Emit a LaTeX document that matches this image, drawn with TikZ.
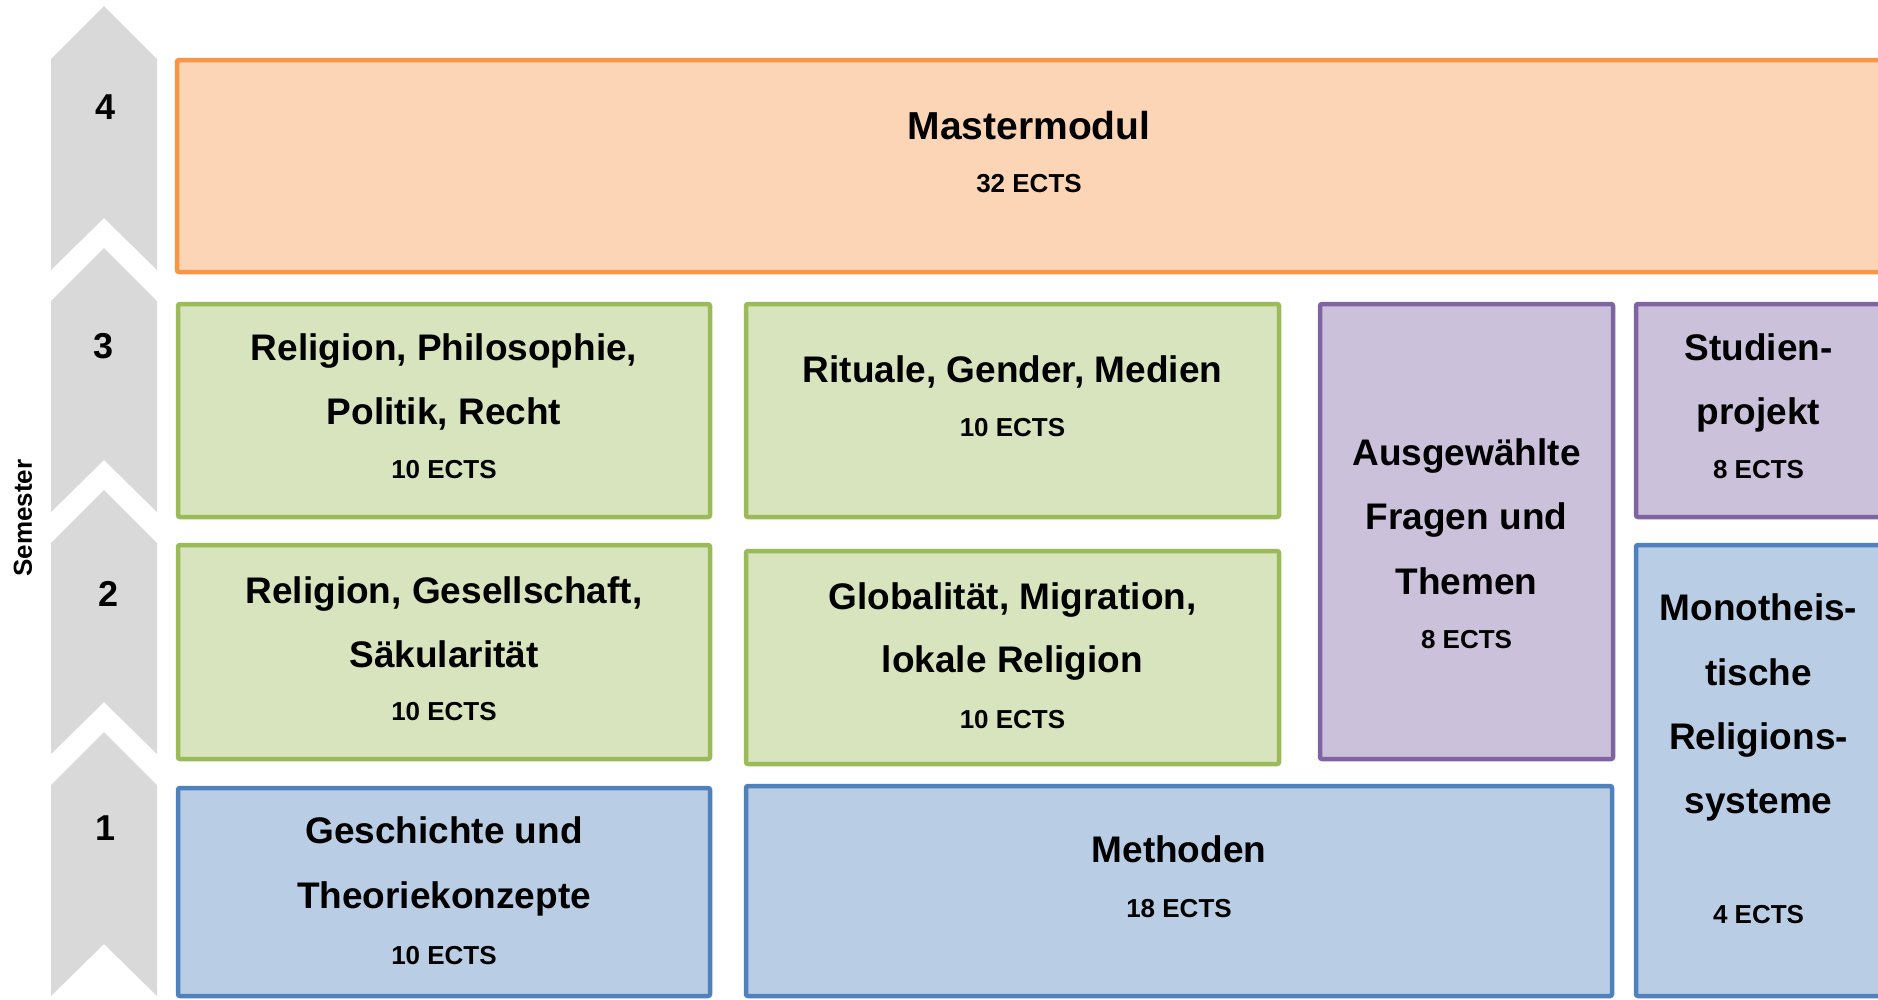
\documentclass[tikz,border=0pt]{standalone}
\usepackage{fontspec}
\setmainfont{Liberation Sans}
\definecolor{orfill}{HTML}{FBD5B5}
\definecolor{ordraw}{HTML}{F79646}
\definecolor{grfill}{HTML}{D7E4BD}
\definecolor{grdraw}{HTML}{9BBB59}
\definecolor{pufill}{HTML}{CCC1DA}
\definecolor{pudraw}{HTML}{8064A2}
\definecolor{blfill}{HTML}{B9CDE5}
\definecolor{bldraw}{HTML}{4F81BD}
\definecolor{chev}{HTML}{D9D9D9}
\begin{document}
\begin{tikzpicture}[x=1pt,y=-1pt,
  modbox/.style={rectangle, rounded corners=2pt, line width=4.5pt, inner sep=0pt},
  orbox/.style={modbox, draw=ordraw, fill=orfill},
  grbox/.style={modbox, draw=grdraw, fill=grfill},
  pubox/.style={modbox, draw=pudraw, fill=pufill},
  blbox/.style={modbox, draw=bldraw, fill=blfill},
  ttl/.style={font=\fontsize{37}{40}\selectfont\bfseries, anchor=base, inner sep=0pt},
  bigttl/.style={font=\fontsize{39}{42}\selectfont\bfseries, anchor=base, inner sep=0pt},
  ect/.style={font=\fontsize{26}{30}\selectfont\bfseries, anchor=base, inner sep=0pt},
  num/.style={font=\fontsize{36}{40}\selectfont\bfseries, inner sep=0pt},
  chevron/.style={fill=chev}
]
\useasboundingbox (0,0) rectangle (1878,999);
\clip (0,0) rectangle (1878,999);

% chevrons
\foreach \t in {6,248,490,732}{
  \fill[chevron] (51,\t+53) -- (104,\t) -- (157,\t+53) -- (157,\t+264)
     -- (104,\t+212) -- (51,\t+264) -- cycle;
}
\node[num] (s4) at (106,107) {4};
\node[num] (s3) at (104,346) {3};
\node[num] (s2) at (109,594) {2};
\node[num] (s1) at (106,828) {1};
\node[rotate=90, font=\fontsize{26}{30}\selectfont\bfseries, inner sep=0pt] (sem) at (23,518) {Semester};

% boxes
\node[orbox, minimum width=1704pt, minimum height=212pt] (mm) at (1029,166) {};
\node[grbox, minimum width=532pt, minimum height=213pt] (rpp) at (444,410.5) {};
\node[grbox, minimum width=532pt, minimum height=214pt] (rgs) at (444,652) {};
\node[blbox, minimum width=532pt, minimum height=208pt] (gtk) at (444,892) {};
\node[grbox, minimum width=533pt, minimum height=213pt] (rgm) at (1012.5,410.5) {};
\node[grbox, minimum width=533pt, minimum height=213pt] (glo) at (1012.5,657.5) {};
\node[blbox, minimum width=866pt, minimum height=210pt] (met) at (1179,891) {};
\node[pubox, minimum width=293pt, minimum height=455pt] (agf) at (1466.5,531.5) {};
\node[pubox, minimum width=245pt, minimum height=213pt] (stp) at (1758.5,410.5) {};
\node[blbox, minimum width=245pt, minimum height=451pt] (mon) at (1758.5,770.5) {};

% texts
\node[bigttl] (mm1) at (mm |- 0,139) {Mastermodul};
\node[ect] (mm2) at (mm |- 0,192) {32 ECTS};

\node[ttl] (rpp1) at (rpp |- 0,360) {Religion, Philosophie,};
\node[ttl] (rpp2) at (rpp |- 0,424) {Politik, Recht};
\node[ect] (rpp3) at (rpp |- 0,478) {10 ECTS};

\node[ttl] (rgm1) at (rgm |- 0,382) {Rituale, Gender, Medien};
\node[ect] (rgm2) at (rgm |- 0,436) {10 ECTS};

\node[ttl] (agf1) at (agf |- 0,465) {Ausgewählte};
\node[ttl] (agf2) at (agf |- 0,529.5) {Fragen und};
\node[ttl] (agf3) at (agf |- 0,594) {Themen};
\node[ect] (agf4) at (agf |- 0,648) {8 ECTS};

\node[ttl] (stp1) at (stp |- 0,360) {Studien-};
\node[ttl] (stp2) at (stp |- 0,424) {projekt};
\node[ect] (stp3) at (stp |- 0,478) {8 ECTS};

\node[ttl] (rgs1) at (rgs |- 0,603) {Religion, Gesellschaft,};
\node[ttl] (rgs2) at (rgs |- 0,667) {Säkularität};
\node[ect] (rgs3) at (rgs |- 0,720) {10 ECTS};

\node[ttl] (glo1) at (glo |- 0,609) {Globalität, Migration,};
\node[ttl] (glo2) at (glo |- 0,672) {lokale Religion};
\node[ect] (glo3) at (glo |- 0,728) {10 ECTS};

\node[ttl] (mon1) at (mon |- 0,620) {Monotheis-};
\node[ttl] (mon2) at (mon |- 0,685) {tische};
\node[ttl] (mon3) at (mon |- 0,749) {Religions-};
\node[ttl] (mon4) at (mon |- 0,813) {systeme};
\node[ect] (mon5) at (mon |- 0,923) {4 ECTS};

\node[ttl] (gtk1) at (gtk |- 0,843) {Geschichte und};
\node[ttl] (gtk2) at (gtk |- 0,908) {Theoriekonzepte};
\node[ect] (gtk3) at (gtk |- 0,964) {10 ECTS};

\node[ttl] (met1) at (met |- 0,862) {Methoden};
\node[ect] (met2) at (met |- 0,917) {18 ECTS};
\end{tikzpicture}
\end{document}
